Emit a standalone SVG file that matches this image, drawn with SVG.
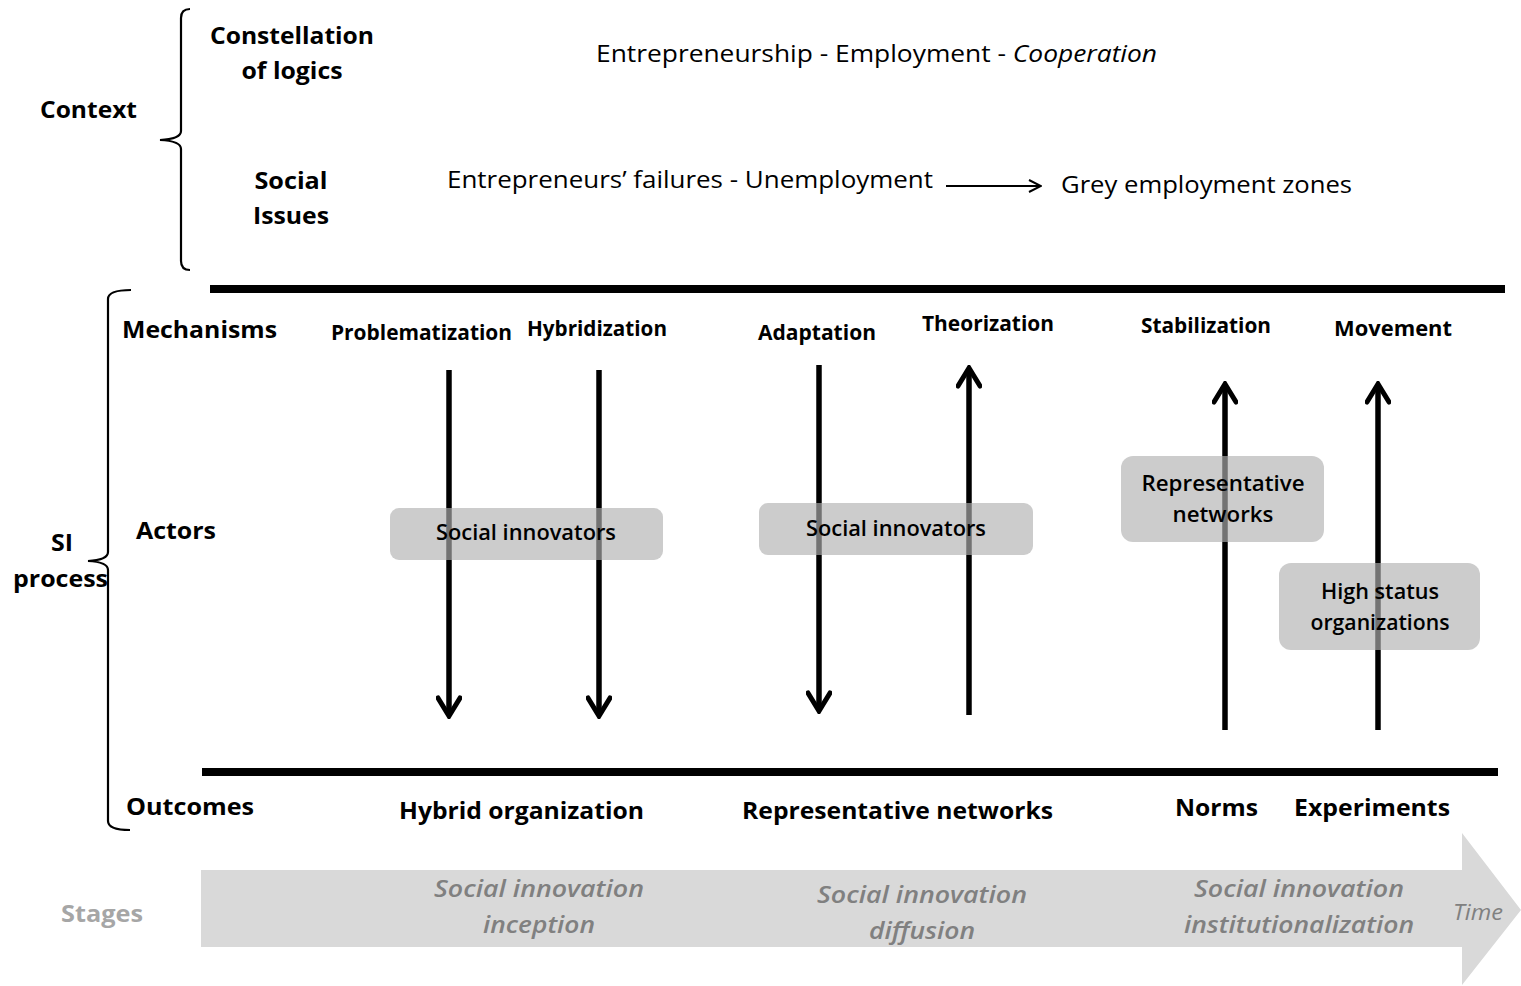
<svg xmlns="http://www.w3.org/2000/svg" width="1521" height="986" viewBox="0 0 1521 986">
<style>
text{font-family:"Open Sans","Liberation Sans",sans-serif;fill:#000}
.b{font-weight:bold;font-size:24px}
.m{font-weight:bold;font-size:21px}
.r{font-size:24px}
.st{font-style:italic;font-weight:600;font-size:24px;fill:#808080}
.box{fill:#b0b0b0;fill-opacity:0.65}
.bar{stroke:#000;stroke-width:8}
.arr{stroke:#000;stroke-width:5.5;fill:none}
.brace{stroke:#000;stroke-width:2.2;fill:none}
</style>
<defs>
<marker id="ah" viewBox="0 0 24 26" refX="21" refY="13" markerWidth="24" markerHeight="26" markerUnits="userSpaceOnUse" orient="auto">
<path d="M3,2 L21,13 L3,24" fill="none" stroke="#000" stroke-width="5" stroke-linecap="round" stroke-linejoin="miter"/>
</marker>
<marker id="ahs" viewBox="0 0 14 14" refX="13" refY="7" markerWidth="14" markerHeight="14" markerUnits="userSpaceOnUse" orient="auto">
<path d="M1,1 L13,7 L1,13" fill="none" stroke="#000" stroke-width="2"/>
</marker>
</defs>
<rect width="1521" height="986" fill="#fff"/>

<g id="stages-arrow">
<polygon points="201,870 1462,870 1462,833 1521,910 1462,985 1462,947 201,947" fill="#d9d9d9"/>
</g>

<g id="braces">
<path class="brace" d="M190,9 Q181,9 181,18 L181,131 Q181,139 160,140 Q181,141 181,149 L181,261 Q181,270 190,270"/>
<path class="brace" d="M131,290 Q108,290 108,299 L108,552 Q108,560 88,561 Q108,562 108,570 L108,821 Q108,830 130,830"/>
</g>

<g id="labels-left">
<text class="b" x="292" y="44" text-anchor="middle" textLength="164" lengthAdjust="spacingAndGlyphs">Constellation</text>
<text class="b" x="292" y="79" text-anchor="middle" textLength="101" lengthAdjust="spacingAndGlyphs">of logics</text>
<text class="b" x="40" y="118" textLength="97" lengthAdjust="spacingAndGlyphs">Context</text>
<text class="b" x="291" y="189" text-anchor="middle" textLength="73" lengthAdjust="spacingAndGlyphs">Social</text>
<text class="b" x="291" y="224" text-anchor="middle" textLength="76" lengthAdjust="spacingAndGlyphs">Issues</text>
<text class="b" x="122" y="338" textLength="155" lengthAdjust="spacingAndGlyphs">Mechanisms</text>
<text class="b" x="136" y="539" textLength="80" lengthAdjust="spacingAndGlyphs">Actors</text>
<text class="b" x="62" y="551" text-anchor="middle" textLength="22" lengthAdjust="spacingAndGlyphs">SI</text>
<text class="b" x="13" y="587" textLength="95" lengthAdjust="spacingAndGlyphs">process</text>
<text class="b" x="126" y="815" textLength="128" lengthAdjust="spacingAndGlyphs">Outcomes</text>
<text class="b" x="61" y="922" style="fill:#a6a6a6" textLength="82" lengthAdjust="spacingAndGlyphs">Stages</text>
</g>

<g id="context-text">
<text class="r" x="596" y="62" textLength="561" lengthAdjust="spacingAndGlyphs">Entrepreneurship - Employment - <tspan font-style="italic">Cooperation</tspan></text>
<text class="r" x="447" y="188" textLength="486" lengthAdjust="spacingAndGlyphs">Entrepreneurs’ failures - Unemployment</text>
<text class="r" x="1061" y="193" textLength="291" lengthAdjust="spacingAndGlyphs">Grey employment zones</text>
</g>

<g id="bars">
<line class="bar" x1="210" y1="289" x2="1505" y2="289"/>
<line class="bar" x1="202" y1="772" x2="1498" y2="772"/>
</g>

<g id="mechanisms">
<text class="m" x="331" y="340" textLength="181" lengthAdjust="spacingAndGlyphs">Problematization</text>
<text class="m" x="527" y="336" textLength="140" lengthAdjust="spacingAndGlyphs">Hybridization</text>
<text class="m" x="758" y="340" textLength="118" lengthAdjust="spacingAndGlyphs">Adaptation</text>
<text class="m" x="922" y="331" textLength="132" lengthAdjust="spacingAndGlyphs">Theorization</text>
<text class="m" x="1141" y="333" textLength="130" lengthAdjust="spacingAndGlyphs">Stabilization</text>
<text class="m" x="1334" y="336" textLength="118" lengthAdjust="spacingAndGlyphs">Movement</text>
</g>

<g id="connectors">
<line x1="946" y1="186" x2="1041" y2="186" stroke="#000" stroke-width="2" marker-end="url(#ahs)"/>
<line class="arr" x1="449" y1="370" x2="449" y2="716" marker-end="url(#ah)"/>
<line class="arr" x1="599" y1="370" x2="599" y2="716" marker-end="url(#ah)"/>
<line class="arr" x1="819" y1="365" x2="819" y2="711" marker-end="url(#ah)"/>
<line class="arr" x1="969" y1="715" x2="969" y2="368" marker-end="url(#ah)"/>
<line class="arr" x1="1225" y1="730" x2="1225" y2="384" marker-end="url(#ah)"/>
<line class="arr" x1="1378" y1="730" x2="1378" y2="384" marker-end="url(#ah)"/>
</g>

<g id="actor1">
<rect class="box" x="390" y="508" width="273" height="52" rx="9"/>
<text class="m" x="526" y="540" text-anchor="middle" textLength="180" lengthAdjust="spacingAndGlyphs" style="font-weight:600">Social innovators</text>
</g>
<g id="actor2">
<rect class="box" x="759" y="503" width="274" height="52" rx="9"/>
<text class="m" x="896" y="536" text-anchor="middle" textLength="180" lengthAdjust="spacingAndGlyphs" style="font-weight:600">Social innovators</text>
</g>
<g id="actor3">
<rect class="box" x="1121" y="456" width="203" height="86" rx="12"/>
<text class="m" x="1223" y="491" text-anchor="middle" textLength="163" lengthAdjust="spacingAndGlyphs" style="font-weight:600">Representative</text>
<text class="m" x="1223" y="522" text-anchor="middle" textLength="101" lengthAdjust="spacingAndGlyphs" style="font-weight:600">networks</text>
</g>
<g id="actor4">
<rect class="box" x="1279" y="563" width="201" height="87" rx="12"/>
<text class="m" x="1380" y="599" text-anchor="middle" textLength="118" lengthAdjust="spacingAndGlyphs" style="font-weight:600">High status</text>
<text class="m" x="1380" y="630" text-anchor="middle" textLength="139" lengthAdjust="spacingAndGlyphs" style="font-weight:600">organizations</text>
</g>

<g id="outcomes">
<text class="b" x="399" y="819" textLength="245" lengthAdjust="spacingAndGlyphs">Hybrid organization</text>
<text class="b" x="742" y="819" textLength="311" lengthAdjust="spacingAndGlyphs">Representative networks</text>
<text class="b" x="1175" y="816" textLength="83" lengthAdjust="spacingAndGlyphs">Norms</text>
<text class="b" x="1294" y="816" textLength="156" lengthAdjust="spacingAndGlyphs">Experiments</text>
</g>

<g id="stages">
<text class="st" x="539" y="897" text-anchor="middle" textLength="210" lengthAdjust="spacingAndGlyphs">Social innovation</text>
<text class="st" x="539" y="933" text-anchor="middle" textLength="112" lengthAdjust="spacingAndGlyphs">inception</text>
<text class="st" x="922" y="903" text-anchor="middle" textLength="210" lengthAdjust="spacingAndGlyphs">Social innovation</text>
<text class="st" x="922" y="939" text-anchor="middle" textLength="106" lengthAdjust="spacingAndGlyphs">diffusion</text>
<text class="st" x="1299" y="897" text-anchor="middle" textLength="210" lengthAdjust="spacingAndGlyphs">Social innovation</text>
<text class="st" x="1299" y="933" text-anchor="middle" textLength="230" lengthAdjust="spacingAndGlyphs">institutionalization</text>
<text x="1478" y="920" text-anchor="middle" style="font-style:italic;font-size:21px;fill:#808080" textLength="50" lengthAdjust="spacingAndGlyphs">Time</text>
</g>
</svg>
